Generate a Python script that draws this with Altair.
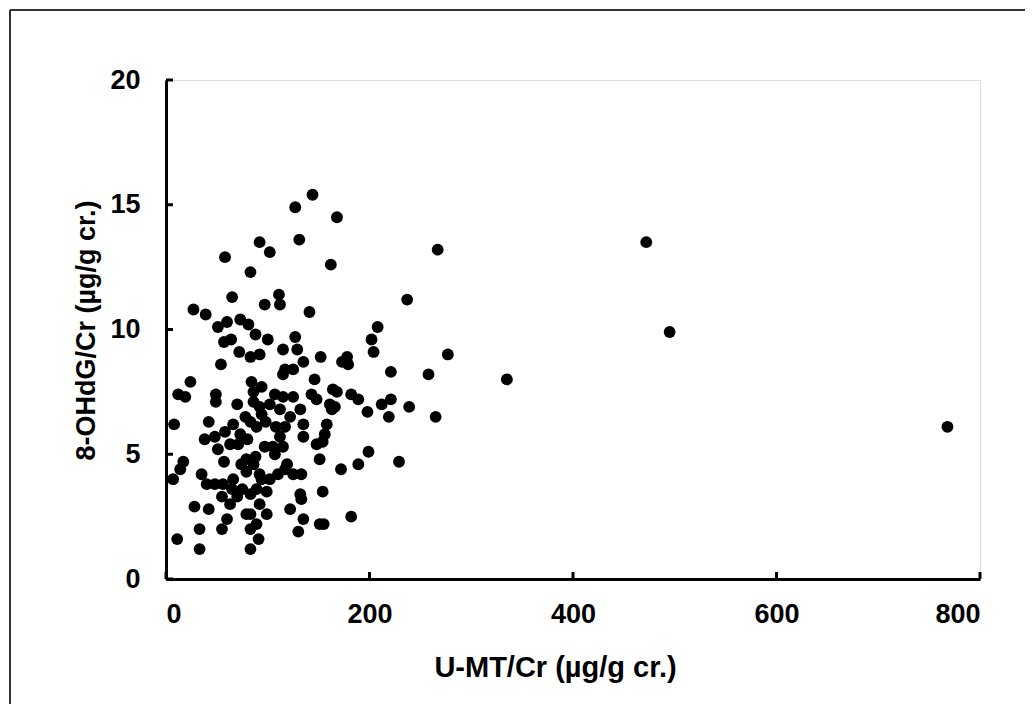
import altair as alt
import pandas as pd

# U-MT/Cr (µg/g cr.) values
umt = [267, 472, 495, 768, 335, 237, 277, 258, 265, 229, 239, 221, 219, 212, 221,
       208, 202, 204, 199, 198, 189, 172, 182, 168, 162, 144, 127, 131, 92, 102,
       58, 83, 65, 111, 112, 97, 141, 27, 39, 60, 51, 73, 81, 88, 57, 64, 100, 127,
       72, 83, 92, 115, 129, 152, 178, 173, 179, 54, 135, 117, 24, 12, 19, 49, 49,
       70, 84, 94, 115, 125, 146, 164, 143, 148, 161, 168, 182, 189, 166, 163, 8,
       42, 86, 86, 92, 107, 115, 125, 132, 135, 135, 158, 156, 154, 148, 151, 17,
       57, 119, 7, 14, 35, 40, 74, 79, 92, 110, 117, 125, 133, 154, 132, 133, 28,
       42, 122, 60, 55, 33, 79, 89, 83, 91, 135, 130, 151, 155, 11, 33, 83, 99,
       38, 48, 58, 66, 73, 80, 83, 89, 98, 108, 112, 105, 115, 97, 88, 79, 86, 107,
       117, 122, 112, 102, 94, 78, 71, 63, 51,
       56, 65, 75, 63, 70, 83, 89, 99, 92, 83, 66, 48, 55, 102, 94]

# 8-OHdG/Cr (µg/g cr.) values
ohdg = [13.2, 13.5, 9.9, 6.1, 8.0, 11.2, 9.0, 8.2, 6.5, 4.7, 6.9, 8.3, 6.5, 7.0, 7.2,
        10.1, 9.6, 9.1, 5.1, 6.7, 4.6, 4.4, 2.5, 14.5, 12.6, 15.4, 14.9, 13.6, 13.5, 13.1,
        12.9, 12.3, 11.3, 11.4, 11.0, 11.0, 10.7, 10.8, 10.6, 10.3, 10.1, 10.4, 10.2, 9.8,
        9.5, 9.6, 9.6, 9.7, 9.1, 8.9, 9.0, 9.2, 9.2, 8.9, 8.9, 8.7, 8.6, 8.6, 8.7, 8.4,
        7.9, 7.4, 7.3, 7.4, 7.1, 7.0, 7.9, 7.7, 8.2, 8.4, 8.0, 7.6, 7.4, 7.2, 7.0, 7.5,
        7.4, 7.2, 6.9, 6.8, 6.2, 6.3, 7.5, 7.1, 6.9, 7.4, 7.3, 7.3, 6.8, 6.2, 5.7, 6.2,
        5.8, 5.5, 5.4, 4.8, 4.7, 4.7, 4.6, 4.0, 4.4, 4.2, 3.8, 4.6, 4.3, 4.2, 4.2, 4.4,
        4.2, 4.2, 3.5, 3.4, 3.2, 2.9, 2.8, 2.8, 2.4, 2.0, 2.0, 2.6, 2.2, 2.0, 1.6, 2.4,
        1.9, 2.2, 2.2, 1.6, 1.2, 1.2, 2.6,
        5.6, 5.7, 5.9, 6.2, 5.8, 5.6, 6.3, 6.1, 6.3, 6.1, 5.7, 5.3, 5.3, 5.3, 4.9, 4.8,
        4.6, 5.0, 6.1, 6.5, 6.8, 7.0, 6.6, 6.5, 5.4, 5.4, 5.2,
        3.8, 3.6, 3.6, 3.0, 3.3, 3.4, 3.6, 3.5, 3.0, 2.6, 4.0, 3.8, 3.3, 4.0, 4.0]

x_ticks = [0, 200, 400, 600, 800]
y_ticks = [0, 5, 10, 15, 20]

df = pd.DataFrame({"umt": umt, "ohdg": ohdg})
xt = pd.DataFrame({"v": x_ticks})
yt = pd.DataFrame({"v": y_ticks})

FONT = "Liberation Sans"
W, H = 814, 499

xscale = alt.Scale(domain=[0, 800], nice=False, zero=True)
yscale = alt.Scale(domain=[0, 20], nice=False, zero=True)

points = alt.Chart(df).mark_circle(size=140, color="black", opacity=1).encode(
    x=alt.X("umt:Q", scale=xscale,
            axis=alt.Axis(values=x_ticks, ticks=False, grid=False, domainWidth=3,
                          domainColor="black", labelFont=FONT, labelFontSize=27,
                          labelFontWeight="bold", labelColor="black", labelPadding=22,
                          title="U-MT/Cr (µg/g cr.)", titleFont=FONT, titleFontSize=29,
                          titleFontWeight="bold", titleColor="black",
                          titleX=389, titleY=88, titleBaseline="middle")),
    y=alt.Y("ohdg:Q", scale=yscale,
            axis=alt.Axis(values=y_ticks, ticks=False, grid=False, domainWidth=3,
                          domainColor="black", labelFont=FONT, labelFontSize=27,
                          labelFontWeight="bold", labelColor="black", labelPadding=26,
                          labelBaseline="middle",
                          title="8-OHdG/Cr (µg/g cr.)", titleFont=FONT, titleFontSize=27,
                          titleFontWeight="bold", titleColor="black",
                          titleX=-80, titleY=250, titleBaseline="middle", titleAngle=270)),
)

xticks = alt.Chart(xt).mark_rule(color="black", strokeWidth=3).encode(
    x=alt.X("v:Q", scale=xscale), y=alt.value(H), y2=alt.value(H - 7))
yticks = alt.Chart(yt).mark_rule(color="black", strokeWidth=3).encode(
    y=alt.Y("v:Q", scale=yscale), x=alt.value(0), x2=alt.value(7))

frame_top = alt.Chart(xt).mark_rule(color="#333", strokeWidth=2).encode(
    x=alt.value(-156), x2=alt.value(900), y=alt.value(-70))
frame_left = alt.Chart(xt).mark_rule(color="#333", strokeWidth=2).encode(
    x=alt.value(-156), y=alt.value(-70), y2=alt.value(700))

chart = alt.layer(frame_top, frame_left, xticks, yticks, points).properties(
    width=W, height=H,
    autosize=alt.AutoSizeParams(type="none"),
    padding={"left": 158, "top": 72, "right": 45, "bottom": 125},
).configure_view(stroke=None).configure(background="white")

chart.save("out.html", embed_options={"renderer": "svg", "actions": False})
